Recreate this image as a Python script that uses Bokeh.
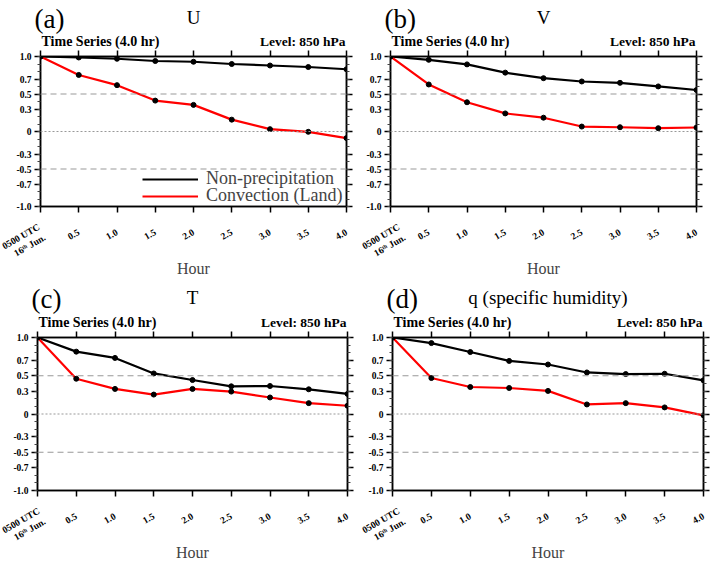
import math
from bokeh.plotting import figure
from bokeh.models import (LinearAxis, FixedTicker, Span, Legend, LegendItem,
                          ColumnDataSource, Range1d)
from bokeh.core.properties import value
from bokeh.layouts import column, row
from bokeh.embed import file_html
from bokeh.resources import INLINE

# ---------------- data ----------------
hours = [0.0, 0.5, 1.0, 1.5, 2.0, 2.5, 3.0, 3.5, 4.0]
x_tick_labels = ["0500 UTC\n16ᵗʰ Jun.", "0.5", "1.0", "1.5", "2.0", "2.5", "3.0", "3.5", "4.0"]
y_ticks = [-1.0, -0.7, -0.5, -0.3, 0.0, 0.3, 0.5, 0.7, 1.0]
y_tick_labels = ["-1.0", "-0.7", "-0.5", "-0.3", "0", "0.3", "0.5", "0.7", "1.0"]

u_nonprecip = [1.0, 0.987, 0.97, 0.94, 0.93, 0.90, 0.88, 0.86, 0.83]
u_convection = [1.0, 0.754, 0.618, 0.412, 0.355, 0.158, 0.031, -0.004, -0.088]

v_nonprecip = [1.0, 0.956, 0.895, 0.785, 0.711, 0.667, 0.649, 0.601, 0.553]
v_convection = [1.0, 0.627, 0.39, 0.241, 0.184, 0.066, 0.057, 0.044, 0.053]

t_nonprecip = [1.0, 0.815, 0.733, 0.53, 0.444, 0.362, 0.366, 0.323, 0.263]
t_convection = [1.0, 0.461, 0.328, 0.254, 0.328, 0.293, 0.216, 0.142, 0.108]

q_nonprecip = [1.0, 0.927, 0.81, 0.694, 0.647, 0.543, 0.522, 0.526, 0.44]
q_convection = [1.0, 0.47, 0.353, 0.34, 0.302, 0.125, 0.142, 0.086, -0.017]

panel_letters = ["(a)", "(b)", "(c)", "(d)"]
panel_titles = ["U", "V", "T", "q (specific humidity)"]
series_names = ["Non-precipitation", "Convection (Land)"]
subtitle_left = "Time Series (4.0 hr)"
subtitle_right = "Level: 850 hPa"
x_axis_title = "Hour"

SERIF = "Liberation Serif"
minor_y = [round(-1.0 + 0.1 * i, 2) for i in range(21)]
X0, X1 = hours[0], hours[-1]


def style_axis(ax):
    ax.axis_line_color = "black"
    ax.axis_line_width = 1.5
    ax.major_tick_line_color = "black"
    ax.major_tick_line_width = 1.5
    ax.major_tick_out = 6
    ax.major_tick_in = 0
    ax.minor_tick_line_color = "#444444"
    ax.minor_tick_out = 3
    ax.minor_tick_in = 0
    ax.major_label_text_font = SERIF
    ax.major_label_text_font_style = "bold"
    ax.major_label_text_font_size = "9.5px"
    ax.major_label_text_color = "black"


def make_title_fig(idx, width, height, bl, br):
    fw = width - bl - br
    span = X1 - X0
    t = figure(width=width, height=height, output_backend="svg", toolbar_location=None,
               x_range=Range1d(X0 - bl * span / fw, X1 + br * span / fw),
               y_range=Range1d(0, height), x_axis_type=None, y_axis_type=None,
               min_border_left=0, min_border_right=0, min_border_top=0, min_border_bottom=0,
               background_fill_color="white", border_fill_color="white")
    t.outline_line_color = None
    t.grid.visible = False
    t.text(x=[X0], y=[height - 18.5], text=[panel_letters[idx]], x_offset=-6,
           text_font=value(SERIF), text_font_size=value("27px"), text_color="black",
           text_baseline="middle", text_align="left")
    t.text(x=[(X0 + X1) / 2], y=[height - 17], text=[panel_titles[idx]],
           text_font=value(SERIF), text_font_size=value("19px"), text_color="black",
           text_baseline="middle", text_align="center")
    t.text(x=[X0], y=[9.5], text=[subtitle_left], x_offset=1,
           text_font=value(SERIF), text_font_size=value("14px"), text_font_style="bold",
           text_color="black", text_baseline="middle", text_align="left")
    t.text(x=[X1], y=[9.5], text=[subtitle_right], x_offset=-1,
           text_font=value(SERIF), text_font_size=value("13.5px"), text_font_style="bold",
           text_color="black", text_baseline="middle", text_align="right")
    return t


def make_panel(idx, nonp, conv, width, height, bl, br, bt, bb, legend=False):
    p = figure(width=width, height=height, output_backend="svg", toolbar_location=None,
               x_range=Range1d(X0, X1), y_range=Range1d(-1, 1),
               min_border_left=bl, min_border_right=br, min_border_top=bt, min_border_bottom=bb,
               background_fill_color="white", border_fill_color="white")
    p.outline_line_color = "black"
    p.outline_line_width = 1.5
    p.xgrid.visible = False
    p.ygrid.visible = False

    bottom = p.below[0]
    left = p.left[0]
    bottom.ticker = FixedTicker(ticks=hours, minor_ticks=[])
    left.ticker = FixedTicker(ticks=y_ticks, minor_ticks=minor_y)
    bottom.major_label_overrides = {h: l for h, l in zip(hours, x_tick_labels)}
    left.major_label_overrides = {t: l for t, l in zip(y_ticks, y_tick_labels)}
    top = LinearAxis(ticker=FixedTicker(ticks=hours, minor_ticks=[]))
    right = LinearAxis(ticker=FixedTicker(ticks=y_ticks, minor_ticks=minor_y))
    p.add_layout(top, "above")
    p.add_layout(right, "right")
    for ax in [bottom, left, top, right]:
        style_axis(ax)
    # mirrored axes carry ticks only
    top.major_label_overrides = {h: "" for h in hours}
    right.major_label_overrides = {t: "" for t in y_ticks}
    top.major_label_text_font_size = "1px"
    right.major_label_text_font_size = "1px"
    top.major_label_standoff = 0
    right.major_label_standoff = 0
    left.major_label_standoff = 3
    bottom.major_label_orientation = math.pi / 6
    bottom.major_label_text_align = "center"
    bottom.major_label_standoff = 19
    bottom.axis_label = x_axis_title
    bottom.axis_label_text_font = SERIF
    bottom.axis_label_text_font_style = "normal"
    bottom.axis_label_text_font_size = "16px"
    bottom.axis_label_standoff = -14

    # reference lines
    for yv, dash in [(0.5, "6 4"), (-0.5, "6 4"), (0.0, "2 2")]:
        p.add_layout(Span(location=yv, dimension="width", line_color="#999999",
                          line_width=1.2, line_dash=dash))

    src = ColumnDataSource(dict(x=hours, nonp=nonp, conv=conv))
    l1 = p.line("x", "nonp", source=src, line_color="black", line_width=2.2)
    l2 = p.line("x", "conv", source=src, line_color="red", line_width=2.2)
    p.scatter("x", "nonp", source=src, size=5, color="black")
    p.scatter("x", "conv", source=src, size=5, color="black")

    if legend:
        for item_label, rend, yoff in [(series_names[0], l1, 17), (series_names[1], l2, 0)]:
            leg = Legend(items=[LegendItem(label=item_label, renderers=[rend])],
                         location=(102, yoff), glyph_width=56, glyph_height=14,
                         label_text_font=SERIF, label_text_font_size="18px",
                         label_standoff=8, spacing=0, padding=0, margin=0,
                         border_line_color=None, background_fill_alpha=0.0,
                         label_height=14)
            p.add_layout(leg, "center")
    return p


ta = make_title_fig(0, 360, 50, 40, 14)
tb = make_title_fig(1, 356, 50, 30, 20)
pa = make_panel(0, u_nonprecip, u_convection, 360, 230, 40, 14, 6, 71, legend=True)
pb = make_panel(1, v_nonprecip, v_convection, 356, 230, 30, 20, 6, 71)
tc = make_title_fig(2, 360, 51, 37, 13)
td = make_title_fig(3, 356, 51, 32, 13)
pc = make_panel(2, t_nonprecip, t_convection, 360, 233, 37, 13, 6, 72)
pd = make_panel(3, q_nonprecip, q_convection, 356, 233, 32, 13, 6, 72)

layout = column(row(ta, tb), row(pa, pb), row(tc, td), row(pc, pd))

with open("out.html", "w") as f:
    f.write(file_html(layout, INLINE))
